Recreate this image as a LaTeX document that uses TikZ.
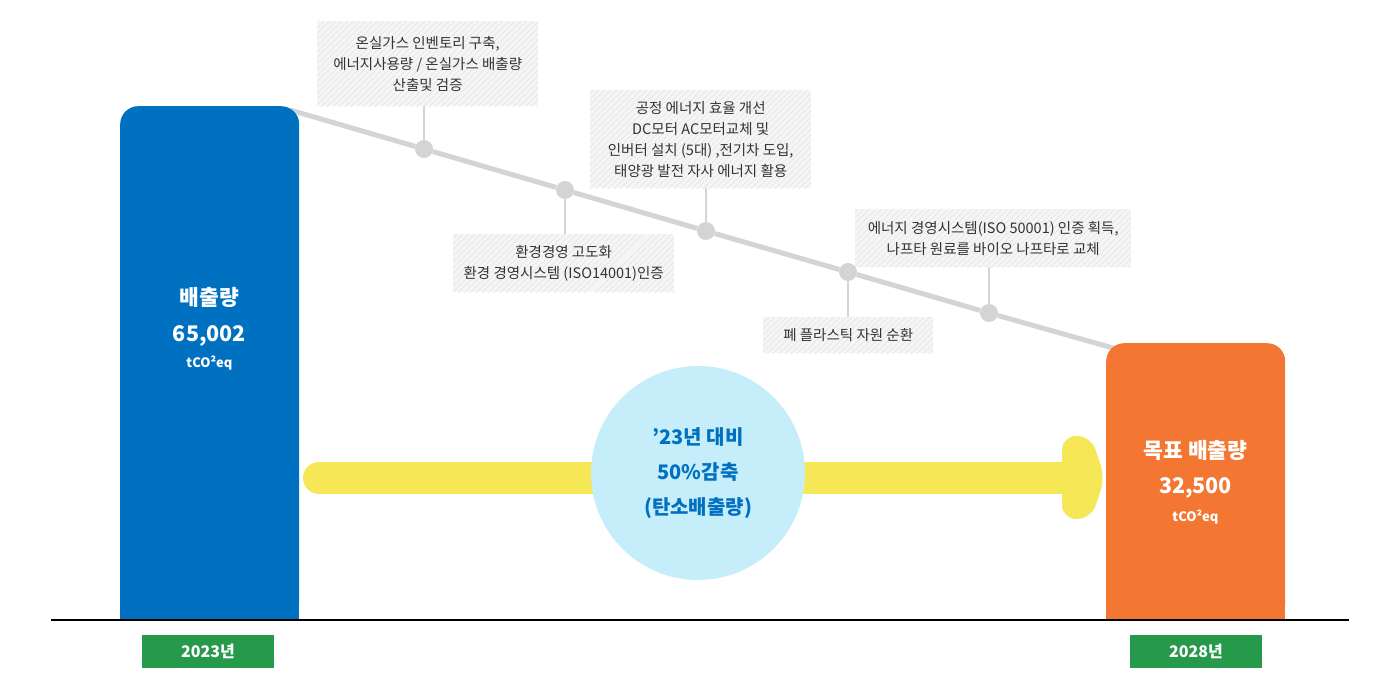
\documentclass[tikz,border=0pt]{standalone}
\usepackage{fontspec}
\setmainfont{Noto Sans CJK KR}
\usetikzlibrary{patterns.meta}

\definecolor{barblue}{HTML}{0071C1}
\definecolor{barorange}{HTML}{F37733}
\definecolor{yeargreen}{HTML}{26994B}
\definecolor{arrowyellow}{HTML}{F6E757}
\definecolor{circlecyan}{HTML}{C6EEFA}
\definecolor{linegray}{HTML}{D4D4D4}
\definecolor{notebg}{HTML}{F5F5F5}
\definecolor{notehatch}{HTML}{E4E4E4}
\definecolor{notetext}{HTML}{333333}

\begin{document}
\begin{tikzpicture}[x=1pt,y=-1pt,
  note/.style={fill=notebg, postaction={pattern={Lines[angle=45,distance=4pt,line width=0.7pt]}, pattern color=notehatch},
    text=notetext, font=\fontsize{14.5}{21}\selectfont, align=center, inner sep=0pt, anchor=north west},
  dot/.style={circle, fill=linegray, minimum size=18pt, inner sep=0pt},
  stem/.style={linegray, line width=2pt},
  bar/.style={rounded corners=18pt, minimum width=179pt, inner sep=0pt, anchor=north west},
  bartitle/.style={text=white, font=\fontsize{21.5}{24}\selectfont\bfseries},
  barvalue/.style={text=white, font=\fontsize{21.5}{26}\selectfont\bfseries},
  barunit/.style={text=white, font=\fontsize{13}{16}\selectfont\bfseries},
  yearbox/.style={fill=yeargreen, text=white, font=\fontsize{16}{18}\selectfont\bfseries,
    minimum width=132pt, minimum height=33pt, inner sep=0pt},
]
\useasboundingbox (0,0) rectangle (1400,700);

% 감축 경로 (회색 선)
\coordinate (lineS) at (290,110);
\coordinate (lineE) at (1120,350);
\node[dot] (d1) at (424,149) {};
\node[dot] (d2) at (565,190) {};
\node[dot] (d3) at (706,231) {};
\node[dot] (d4) at (848,272) {};
\node[dot] (d5) at (989,313) {};
\draw[linegray, line width=5pt] (lineS) -- (d1) -- (d2) -- (d3) -- (d4) -- (d5) -- (lineE);

% 설명 상자
\node[note, minimum width=221pt, minimum height=85pt] (n1) at (317,21)
  {온실가스 인벤토리 구축,\\에너지사용량 / 온실가스 배출량\\산출및 검증};
\node[note, minimum width=221pt, minimum height=58pt] (n2) at (453,234)
  {환경경영 고도화\\환경 경영시스템 (ISO14001)인증};
\node[note, minimum width=221pt, minimum height=98pt] (n3) at (590,90)
  {공정 에너지 효율 개선\\DC모터 AC모터교체 및\\인버터 설치 (5대) ,전기차 도입,\\태양광 발전 자사 에너지 활용};
\node[note, minimum width=170pt, minimum height=36pt] (n4) at (763,317)
  {폐 플라스틱 자원 순환};
\node[note, minimum width=276pt, minimum height=58pt] (n5) at (855,209)
  {에너지 경영시스템(ISO 50001) 인증 획득,\\나프타 원료를 바이오 나프타로 교체};

% 연결선
\draw[stem] (d1) -- (d1 |- n1.south);
\draw[stem] (d2) -- (d2 |- n2.north);
\draw[stem] (d3) -- (d3 |- n3.south);
\draw[stem] (d4) -- (d4 |- n4.north);
\draw[stem] (d5) -- (d5 |- n5.south);

% 막대
\node[bar, fill=barblue, minimum height=514pt] (bar23) at (120,106) {};
\fill[barblue] (bar23.west) rectangle (bar23.south east);
\node[bar, fill=barorange, minimum height=277pt] (bar28) at (1106,343) {};
\fill[barorange] (bar28.west) rectangle (bar28.south east);

% 막대 글자
\node[bartitle] (t23) at (209.5,297) {배출량};
\node[barvalue] (v23) at (209.5,336) {65,002};
\node[barunit] (u23) at (209.5,363) {tCO²eq};
\node[bartitle] (t28) at (1195.5,450) {목표 배출량};
\node[barvalue] (v28) at (1195.5,488) {32,500};
\node[barunit] (u28) at (1195.5,517) {tCO²eq};

% 노란 화살표
\coordinate (arrS) at (319,478);
\coordinate (arrE) at (1075,478);
\draw[arrowyellow, line width=32pt, line cap=round] (arrS) -- (arrE);
\fill[arrowyellow, rounded corners=14pt] (1062,478) -- (1062,436) -- (1091,436) -- (1105,478)
  -- (1091,519) -- (1062,519) -- cycle;

% 감축 목표 원
\node[circle, fill=circlecyan, minimum size=214pt, inner sep=0pt, text=barblue, align=center,
  font=\fontsize{20}{35}\selectfont\bfseries] (goal) at (698,473) {’23년 대비\\50\%감축\\(탄소배출량)};

% 기준선
\draw[line width=2pt] (51,620) -- (1349,620);

% 연도
\node[yearbox] (y23) at (208,651.5) {2023년};
\node[yearbox] (y28) at (1196,651.5) {2028년};

\end{tikzpicture}
\end{document}
